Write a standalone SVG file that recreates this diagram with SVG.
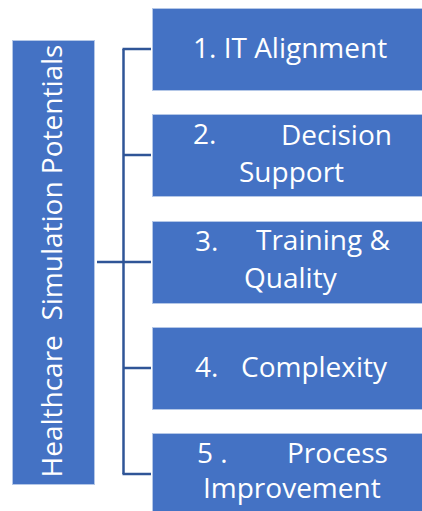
<svg xmlns="http://www.w3.org/2000/svg" width="422" height="511" viewBox="0 0 422 511">
<style>
.box{fill:#4472C4;stroke:#B4C7E7;stroke-width:1}
.t{font-family:"Open Sans","Liberation Sans",sans-serif;font-size:28px;fill:#FFFFFF}
.c{fill:none;stroke:#2F5597;stroke-width:2.5}
</style>
<rect width="422" height="511" fill="#FFFFFF"/>
<g id="connectors">
<path class="c" d="M97 262 H123.5"/>
<path class="c" d="M123.5 49 V474"/>
<path class="c" d="M122.5 49 H151"/>
<path class="c" d="M123.5 155 H151"/>
<path class="c" d="M123.5 262 H151"/>
<path class="c" d="M123.5 368 H151"/>
<path class="c" d="M122.5 474 H151"/>
</g>
<g id="root">
<rect class="box" x="12.5" y="40.5" width="82" height="444"/>
<text class="t" transform="translate(62,261) rotate(-90)" text-anchor="middle" xml:space="preserve">Healthcare  Simulation Potentials</text>
</g>
<g id="node1">
<rect class="box" x="152.5" y="8.5" width="270" height="82"/>
<text class="t" x="193" y="58">1. IT Alignment</text>
</g>
<g id="node2">
<rect class="box" x="152.5" y="114.5" width="270" height="82"/>
<text class="t"><tspan x="193" y="144">2.</tspan><tspan x="281" y="145">Decision</tspan><tspan x="239" y="182">Support</tspan></text>
</g>
<g id="node3">
<rect class="box" x="152.5" y="221.5" width="270" height="82"/>
<text class="t"><tspan x="195" y="251">3.</tspan><tspan x="256" y="250">Training &amp;</tspan><tspan x="244" y="288">Quality</tspan></text>
</g>
<g id="node4">
<rect class="box" x="152.5" y="327.5" width="270" height="82"/>
<text class="t"><tspan x="195" y="377">4.</tspan><tspan x="241" y="377">Complexity</tspan></text>
</g>
<g id="node5">
<rect class="box" x="152.5" y="433.5" width="270" height="84"/>
<text class="t"><tspan x="197" y="463">5 .</tspan><tspan x="287" y="463">Process</tspan><tspan x="203" y="498">Improvement</tspan></text>
</g>
</svg>
